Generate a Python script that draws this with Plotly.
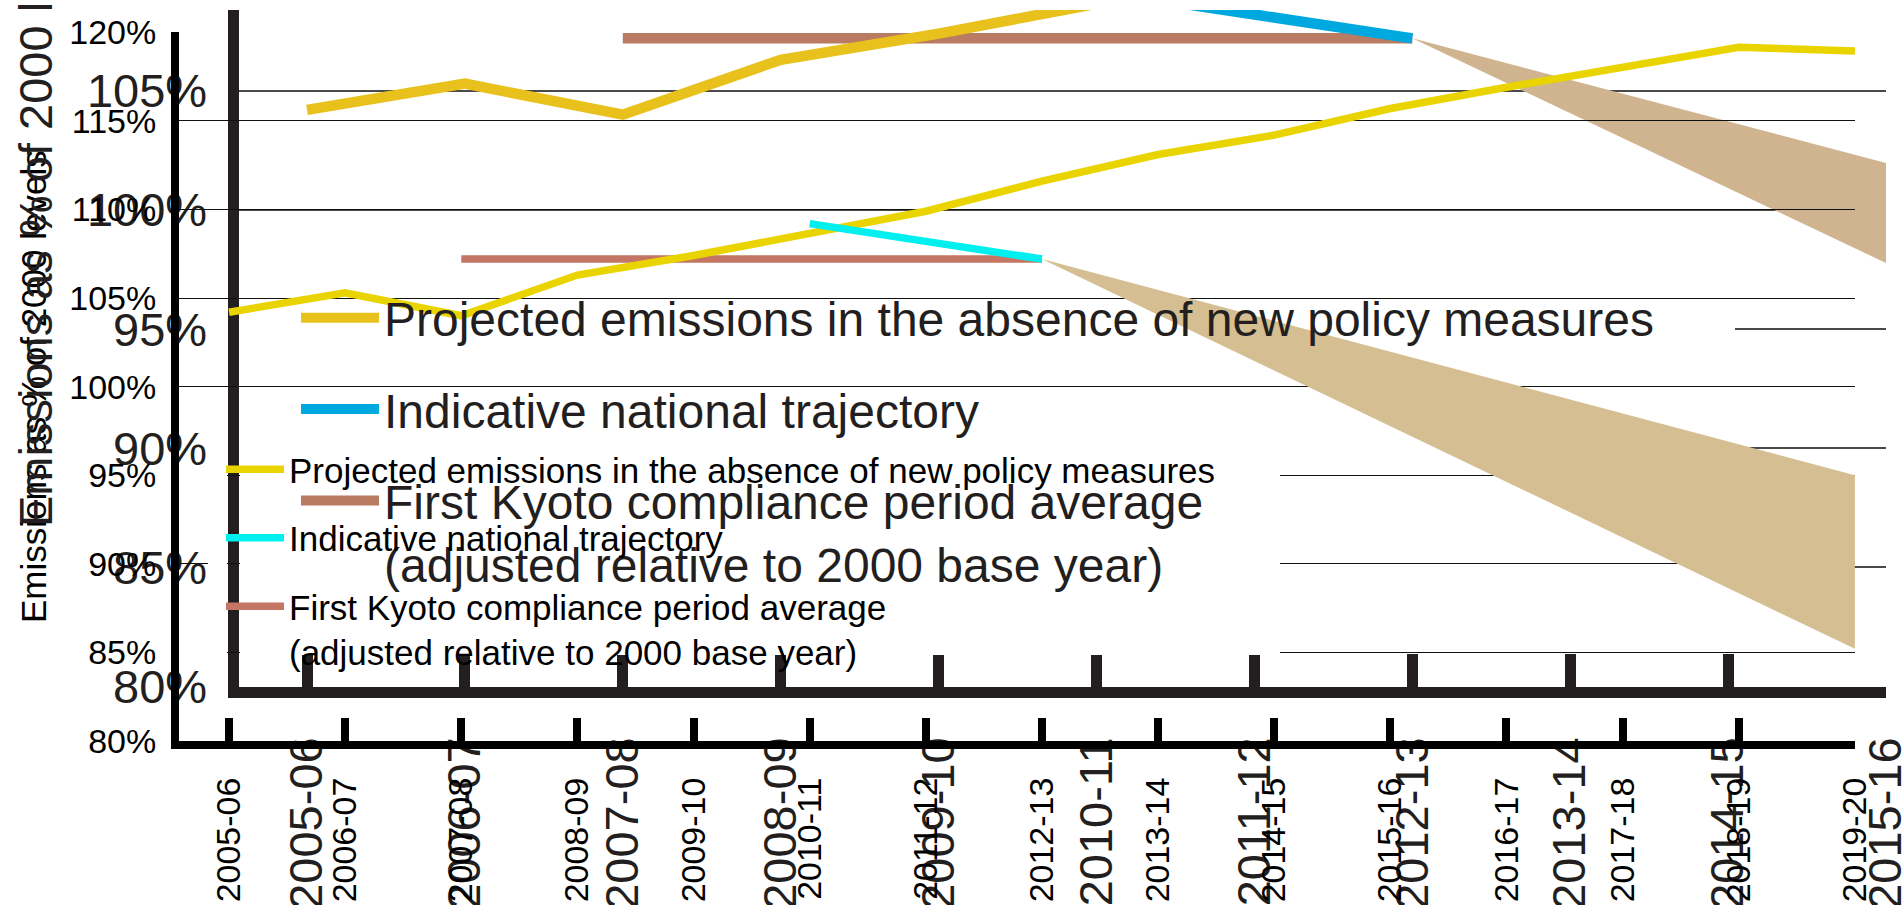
import plotly.graph_objects as go

# ---------------- data ----------------
years = ["2005-06", "2006-07", "2007-08", "2008-09", "2009-10", "2010-11", "2011-12",
         "2012-13", "2013-14", "2014-15", "2015-16", "2016-17", "2017-18", "2018-19", "2019-20"]
projected = [104.2, 105.3, 104.0, 106.3, 107.4, 108.7, 109.9, 111.6, 113.1, 114.2,
             115.7, 116.9, 118.05, 119.15, 118.95]
trajectory_years = ["2010-11", "2011-12", "2012-13"]
trajectory = [109.2, 108.2, 107.2]
kyoto_years = ["2007-08", "2008-09", "2009-10", "2010-11", "2011-12", "2012-13"]
kyoto = [107.2, 107.2, 107.2, 107.2, 107.2, 107.2]
range_years = ["2012-13", "2019-20", "2019-20"]
range_bounds = [107.2, 95.0, 85.2]
y_ticks = [80, 85, 90, 95, 100, 105, 110, 115, 120]
y_tick_text = ["80%", "85%", "90%", "95%", "100%", "105%", "110%", "115%", "120%"]

name_projected = "Projected emissions in the absence of new policy measures"
name_trajectory = "Indicative national trajectory"
name_kyoto = "First Kyoto compliance period average<br>(adjusted relative to 2000 base year)"
y_title = "Emissions as % of 2000 levels"

# ---------------- layout geometry (pixels) ----------------
W, H = 1903, 905
INK = "#231f20"
FONT = "Liberation Sans, Arial, Helvetica, sans-serif"

# large copy (drawn first, underneath)
BL, BR, BT, BB = 238.5, 1886.0, 10.0, 686.5
B_XR = [-0.4338, 10.0]
B_YR = [80.0, 108.39]
# small copy (drawn on top)
AL, AR, AT, AB = 179.0, 1855.0, 32.3, 741.0
A_XR = [-0.4306, 14.001]
A_YR = [80.0, 120.0]

def xdom(l, r):
    return [l / W, r / W]

def ydom(t, b):
    return [1 - b / H, 1 - t / H]

A_DX = (AR - AL) / (A_XR[1] - A_XR[0])
A_DY = (AB - AT) / (A_YR[1] - A_YR[0])
B_DX = (BR - BL) / (B_XR[1] - B_XR[0])

def a_x(px):
    return A_XR[0] + (px - AL) / A_DX

def b_x(px):
    return B_XR[0] + (px - BL) / B_DX

fig = go.Figure()

def add_copy(xa, ya, legend, colors, lw, prefix):
    fig.add_trace(go.Scatter(
        x=range_years, y=range_bounds, xaxis=xa, yaxis=ya, mode="lines",
        fill="toself", fillcolor=colors["range"], line=dict(width=0, color=colors["range"]),
        showlegend=False, hoverinfo="skip"))
    fig.add_trace(go.Scatter(
        x=kyoto_years, y=kyoto, xaxis=xa, yaxis=ya, mode="lines", name=name_kyoto,
        line=dict(color=colors["kyoto"], width=lw), legend=legend, legendrank=3,
        legendgroup=prefix + "k", hoverinfo="skip"))
    fig.add_trace(go.Scatter(
        x=years, y=projected, xaxis=xa, yaxis=ya, mode="lines", name=name_projected,
        line=dict(color=colors["proj"], width=lw), legend=legend, legendrank=1,
        legendgroup=prefix + "p", hoverinfo="skip"))
    fig.add_trace(go.Scatter(
        x=trajectory_years, y=trajectory, xaxis=xa, yaxis=ya, mode="lines", name=name_trajectory,
        line=dict(color=colors["traj"], width=lw), legend=legend, legendrank=2,
        legendgroup=prefix + "t", hoverinfo="skip"))

add_copy("x", "y", "legend",
         dict(range="#cfb48f", kyoto="#b97b62", proj="#e8c11c", traj="#00a8e0"), 10.5, "b")
add_copy("x2", "y2", "legend2",
         dict(range="#d5be91", kyoto="#c47563", proj="#e9d400", traj="#00f0f0"), 7.5, "a")

# white masks that hide gridlines behind the legend areas
shapes = []
shapes.append(dict(type="rect", xref="x", yref="y", layer="between",
                   x0=B_XR[0], x1=b_x(1735), y0=83.4, y1=96.6,
                   fillcolor="white", line=dict(width=0)))
for gv, x_start in [(95, AL), (90, 208), (85, AL)]:
    for x0, x1 in [(x_start, 227), (240, 1280)]:
        shapes.append(dict(type="rect", xref="x2", yref="y2", layer="between",
                           x0=a_x(x0), x1=a_x(x1), y0=gv - 2.6 / A_DY, y1=gv + 2.6 / A_DY,
                           fillcolor="white", line=dict(width=0)))

fig.update_layout(
    width=W, height=H, margin=dict(l=0, r=0, t=0, b=0, pad=0, autoexpand=False),
    paper_bgcolor="white", plot_bgcolor="rgba(0,0,0,0)",
    font=dict(family=FONT, color=INK), hovermode=False,
    xaxis=dict(domain=xdom(BL, BR), range=B_XR, type="category", categoryorder="array",
               categoryarray=years, anchor="y", showline=True, linewidth=11, linecolor=INK,
               ticks="inside", ticklen=32.5, tickwidth=11, tickcolor=INK, tickangle=-90,
               tickfont=dict(size=47, color=INK, family=FONT), ticklabelstandoff=21,
               showgrid=False, zeroline=False, automargin=False),
    yaxis=dict(domain=ydom(BT, BB), range=B_YR, anchor="x", tickmode="array",
               tickvals=y_ticks, ticktext=y_tick_text, showline=True, linewidth=11,
               linecolor=INK, ticks="", showgrid=True, gridcolor="#4a4a4a", gridwidth=1.6,
               zeroline=False, tickfont=dict(size=47, color=INK, family=FONT),
               ticklabelstandoff=11, automargin=False),
    xaxis2=dict(domain=xdom(AL, AR), range=A_XR, type="category", categoryorder="array",
                categoryarray=years, anchor="y2", showline=True, linewidth=8, linecolor="black",
                ticks="inside", ticklen=23, tickwidth=8, tickcolor="black", tickangle=-90,
                tickfont=dict(size=34, color="black", family=FONT), ticklabelstandoff=15,
                showgrid=False, zeroline=False, automargin=False),
    yaxis2=dict(domain=ydom(AT, AB), range=A_YR, anchor="x2", tickmode="array",
                tickvals=y_ticks, ticktext=y_tick_text, showline=True, linewidth=8,
                linecolor="black", ticks="", showgrid=True, gridcolor="#111111", gridwidth=1.2,
                zeroline=False, tickfont=dict(size=34, color="black", family=FONT),
                ticklabelstandoff=8, automargin=False,
                title=dict(text=y_title, font=dict(size=35, color="black", family=FONT),
                           standoff=15)),
    legend=dict(x=(384 - 78 - 10) / W, y=1 - 280 / H, xanchor="left", yanchor="top",
                bgcolor="rgba(0,0,0,0)", borderwidth=0, itemwidth=78, tracegroupgap=26,
                valign="top", font=dict(size=48, color=INK, family=FONT)),
    legend2=dict(x=(289 - 58 - 10) / W, y=1 - 440 / H, xanchor="left", yanchor="top",
                 bgcolor="rgba(0,0,0,0)", borderwidth=0, itemwidth=58, tracegroupgap=20,
                 valign="top", font=dict(size=35, color="black", family=FONT)),
    annotations=[dict(text=y_title, textangle=-90, x=36 / W, y=1 - 210 / H, xref="paper",
                      yref="paper", showarrow=False, xanchor="center", yanchor="middle",
                      font=dict(size=47, color=INK, family=FONT))],
    shapes=shapes,
)

fig.write_html("out.html", config={"displayModeBar": False},
               post_script="document.body.style.margin='0px';")
